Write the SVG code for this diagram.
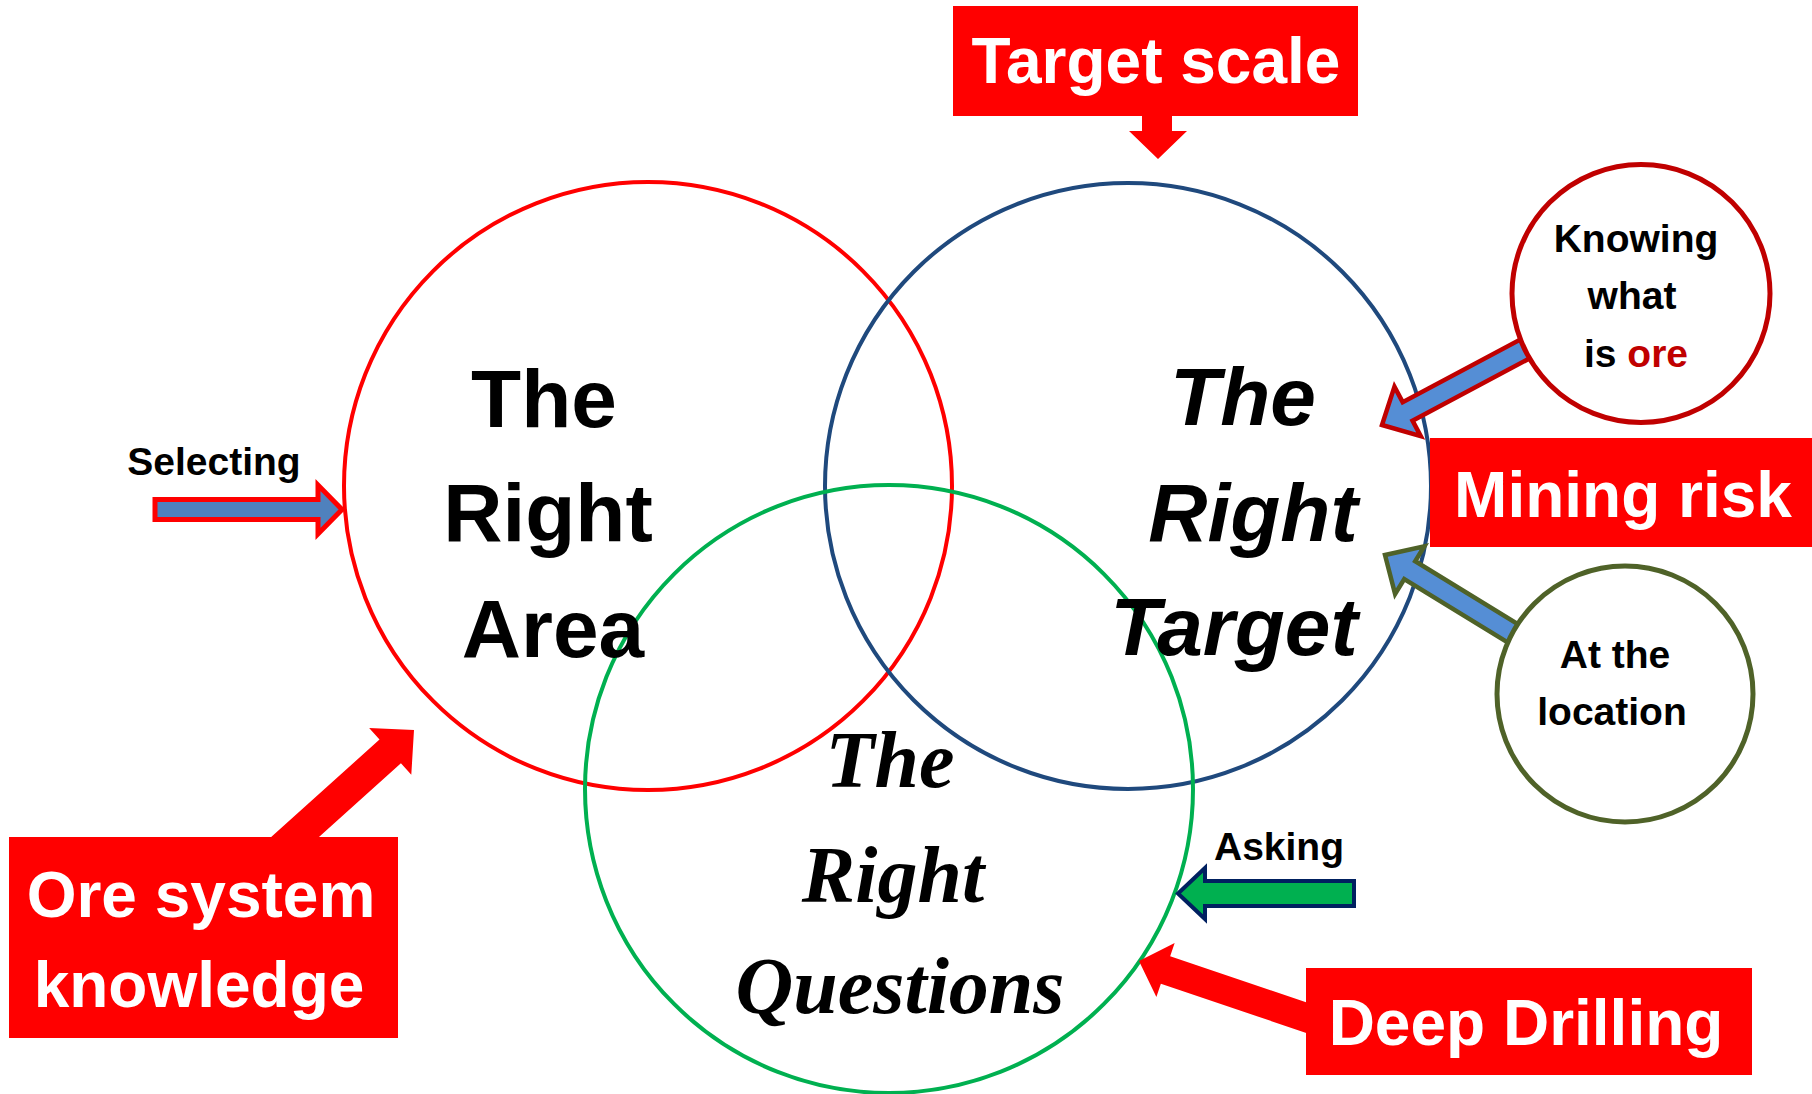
<svg xmlns="http://www.w3.org/2000/svg" width="1812" height="1094" viewBox="0 0 1812 1094">
<style>
  .sans { font-family: "Liberation Sans", Arial, sans-serif; font-weight: bold; }
  .lbl { fill: #000; font-size: 39px; text-anchor: middle; }
  .box { fill: #FF0000; }
  .boxt { fill: #FFFFFF; font-size: 64px; text-anchor: middle; }
  .big { fill: #000; font-size: 82px; text-anchor: middle; }
  .script { font-family: "Liberation Serif", "Times New Roman", serif; font-style: italic; font-weight: bold; font-size: 80px; fill: #000; text-anchor: middle; }
  .ring { fill: none; stroke-width: 4; }
</style>
<defs>
  <path id="arrowA" d="M0,0 L-29,-28 L-29,-10.5 L-200,-10.5 L-200,10.5 L-29,10.5 L-29,28 Z"/>
</defs>
<rect width="1812" height="1094" fill="#FFFFFF"/>

<g id="circle-area">
  <circle class="ring" cx="648" cy="486" r="304" stroke="#FF0000"/>
</g>
<g id="circle-target">
  <circle class="ring" cx="1128" cy="486" r="303" stroke="#1F497D"/>
</g>
<g id="circle-questions">
  <circle class="ring" cx="889" cy="789" r="304" stroke="#00B050"/>
</g>

<g id="connectors">
  <polygon points="1142,110 1172,110 1172,131 1187,131 1158,159 1129,131 1142,131" fill="#FF0000"/>
  <polygon points="155,499.5 318,499.5 318,485 342,509.5 318,534 318,519.5 155,519.5" fill="#4F81BD" stroke="#FF0000" stroke-width="5"/>
  <path d="M0,0 L-32,-31.5 L-32,-16 L-195,-16 L-195,16 L-32,16 L-32,31.5 Z" transform="translate(414,730) rotate(-42)" fill="#FF0000"/>
  <path d="M0,0 L-28,-28.5 L-28,-14.5 L-215,-14.5 L-215,14.5 L-28,14.5 L-28,28.5 Z" transform="translate(1139,961) rotate(198.7)" fill="#FF0000"/>
  <polygon points="1354,881 1205,881 1205,868 1178,893.5 1205,919 1205,906 1354,906" fill="#00B050" stroke="#002060" stroke-width="4"/>
  <use href="#arrowA" transform="translate(1382,425) rotate(152)" fill="#558ED5" stroke="#C00000" stroke-width="4.5"/>
  <use href="#arrowA" transform="translate(1385,555) rotate(211.5)" fill="#558ED5" stroke="#4F6228" stroke-width="4.5"/>
</g>

<g id="text-area" class="sans">
  <text class="big" x="544" y="427">The</text>
  <text class="big" x="548" y="541">Right</text>
  <text class="big" x="553" y="657">Area</text>
</g>
<g id="text-target" class="sans" font-style="italic">
  <text class="big" x="1243" y="425">The</text>
  <text class="big" x="1253" y="541">Right</text>
  <text class="big" x="1234" y="655">Target</text>
</g>
<g id="text-questions">
  <text class="script" x="890" y="787">The</text>
  <text class="script" x="893" y="902">Right</text>
  <text class="script" x="900" y="1013">Questions</text>
</g>

<g id="knowing">
  <circle cx="1641" cy="293.5" r="129" fill="#FFFFFF" stroke="#C00000" stroke-width="5"/>
  <text class="sans lbl" x="1636" y="252">Knowing</text>
  <text class="sans lbl" x="1632" y="309">what</text>
  <text class="sans lbl" x="1636" y="367">is <tspan fill="#C00000">ore</tspan></text>
</g>
<g id="location">
  <circle cx="1625" cy="694" r="128" fill="#FFFFFF" stroke="#4F6228" stroke-width="5"/>
  <text class="sans lbl" x="1615" y="668">At the</text>
  <text class="sans lbl" x="1612" y="725">location</text>
</g>

<g id="target-scale">
  <rect class="box" x="953" y="6" width="405" height="110"/>
  <text class="sans boxt" x="1156" y="83">Target scale</text>
</g>
<g id="mining-risk">
  <rect class="box" x="1430" y="438" width="382" height="109"/>
  <text class="sans boxt" x="1623" y="517">Mining risk</text>
</g>
<g id="ore-system">
  <rect class="box" x="9" y="837" width="389" height="201"/>
  <text class="sans boxt" x="201" y="917">Ore system</text>
  <text class="sans boxt" x="199" y="1007">knowledge</text>
</g>
<g id="deep-drilling">
  <rect class="box" x="1306" y="968" width="446" height="107"/>
  <text class="sans boxt" x="1526" y="1045">Deep Drilling</text>
</g>
<g id="selecting">
  <text class="sans lbl" x="214" y="475">Selecting</text>
</g>
<g id="asking">
  <text class="sans lbl" x="1279" y="860">Asking</text>
</g>
</svg>
